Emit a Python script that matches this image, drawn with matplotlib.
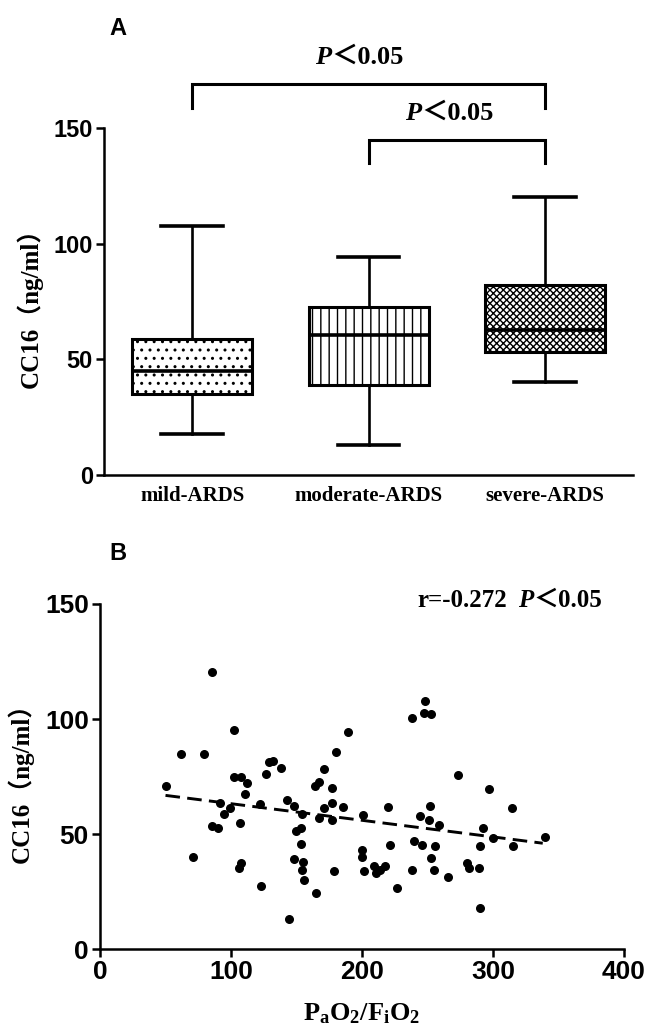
import matplotlib
matplotlib.use('Agg')
import matplotlib.pyplot as plt
import numpy as np

plt.rcParams['hatch.linewidth'] = 1.0
plt.rcParams['mathtext.fontset'] = 'custom'
plt.rcParams['mathtext.rm'] = 'Liberation Serif:bold'
plt.rcParams['mathtext.it'] = 'Liberation Serif:italic:bold'

# ---- panel A: box plot summary per group ----
groups = ['mild-ARDS', 'moderate-ARDS', 'severe-ARDS']
whisk_low = [17.9, 12.8, 40.2]
q1 = [35.2, 38.8, 53.2]
med = [45.0, 60.4, 62.5]
q3 = [58.6, 72.6, 82.3]
whisk_high = [107.6, 94.2, 120.2]
hatches = ['..', '||', 'xxxxx']

# ---- panel B: scatter of CC16 vs PaO2/FiO2 ----
pf_ratio = [85.5, 248, 238, 247, 253, 102.6, 189, 61.8, 79.5, 180, 129, 132.4,
            137.8, 126.4, 171, 273, 102.6, 108,
            50.4, 112, 164.4, 167, 177, 297, 110.9, 142.5, 91.5, 121.9, 147.9,
            177, 171, 185.6, 219.5, 252, 314.5, 99.1, 95, 154, 200.5, 167, 177,
            244, 251, 259, 85.8, 89.9, 106.7, 153.3, 149.5, 292.6, 300, 340,
            153.6, 221.7, 240, 246, 255.6, 290.4, 315, 200.2, 200.2, 71.3,
            147.9, 252.8, 154.8, 107.7, 106.1, 217.5, 209, 211, 214, 238, 280,
            282, 289.5, 154, 178.3, 201.7, 255, 266, 156, 122.9, 227, 165,
            290.4, 144]
cc16 = [120.4, 107.8, 100.6, 102.8, 102.1, 95.4, 94.4, 84.7, 84.7, 85.7, 81.1,
        81.8, 78.9, 75.9, 78.2, 75.6, 74.9, 74.9,
        71, 72.1, 70.7, 72.6, 70.1, 69.7, 67.5, 64.7, 63.6, 62.9, 62.2, 63.5,
        61.5, 61.8, 61.8, 62.1, 61.5, 61.1, 58.9, 58.9, 58.2, 56.8, 56.3, 57.8,
        56, 53.9, 53.6, 52.7, 54.6, 52.7, 51.3, 52.7, 48.4, 48.9, 45.5, 45.3,
        47.1, 45.3, 44.8, 44.8, 44.8, 43.1, 40.2, 40.2, 39.2, 39.4, 37.8, 37.4,
        35.2, 36.2, 36.2, 33, 34.5, 34.2, 37.4, 35.2, 35.2, 34.2, 33.8, 33.8,
        34.2, 31.3, 30.2, 27.6, 26.7, 24.4, 18, 12.9]
fit_x = [50, 338]
fit_y = [66.8, 46.0]

serif_cjk = ['Liberation Serif', 'Noto Sans CJK SC']
tick_font = 'Liberation Sans'

fig = plt.figure(figsize=(6.46, 10.30), dpi=100)
axA = fig.add_axes([0.161, 0.5388, 0.819, 0.3369])
axB = fig.add_axes([0.1548, 0.0786, 0.8111, 0.335])

for ax in (axA, axB):
    ax.spines['top'].set_visible(False)
    ax.spines['right'].set_visible(False)
    ax.spines['left'].set_linewidth(1.8)
    ax.spines['bottom'].set_linewidth(1.8)
    ax.tick_params(width=1.8, length=6, pad=2)

# box plot
stats = []
for i in range(len(groups)):
    stats.append({'whislo': whisk_low[i], 'q1': q1[i], 'med': med[i],
                  'q3': q3[i], 'whishi': whisk_high[i], 'fliers': []})
bp = axA.bxp(stats, positions=[1, 2, 3], widths=0.68, capwidths=0.35,
             patch_artist=True, showfliers=False,
             boxprops=dict(linewidth=2.2, edgecolor='black', facecolor='white'),
             medianprops=dict(linewidth=2.6, color='black'),
             whiskerprops=dict(linewidth=1.9, color='black'),
             capprops=dict(linewidth=2.6, color='black'))
for patch, h in zip(bp['boxes'], hatches):
    patch.set_hatch(h)

axA.set_xlim(0.5, 3.5)
axA.set_ylim(0, 150)
axA.set_yticks([0, 50, 100, 150])
axA.set_xticks([1, 2, 3])
axA.set_xticklabels(groups, family='Liberation Serif', weight='bold', fontsize=15)
axA.tick_params(axis='x', length=0, pad=8)
for lab in axA.get_yticklabels():
    lab.set_family(tick_font)
    lab.set_weight('bold')
    lab.set_fontsize(17)
axA.set_ylabel('CC16（ng/ml）', family=serif_cjk, weight='bold', fontsize=18, labelpad=8)

# significance brackets
axA.plot([1, 1, 3, 3], [158.6, 169, 169, 158.6], color='black', lw=2.2,
         clip_on=False, solid_joinstyle='miter')
axA.plot([2, 2, 3, 3], [134.9, 144.8, 144.8, 134.9], color='black', lw=2.2,
         clip_on=False, solid_joinstyle='miter')
axA.text(1.79, 177.7, 'P', family='Liberation Serif', style='italic', weight='bold',
         fontsize=19, ha='right', va='baseline', clip_on=False)
axA.text(1.79, 177.7, '＜0.05', family=serif_cjk, weight='bold',
         fontsize=19, ha='left', va='baseline', clip_on=False)
axA.text(2.30, 153.5, 'P', family='Liberation Serif', style='italic', weight='bold',
         fontsize=19, ha='right', va='baseline', clip_on=False)
axA.text(2.30, 153.5, '＜0.05', family=serif_cjk, weight='bold',
         fontsize=19, ha='left', va='baseline', clip_on=False)

fig.text(0.183, 0.972, 'A', family=tick_font, weight='bold', fontsize=17,
         ha='center', va='center')

# scatter
axB.scatter(pf_ratio, cc16, s=30, color='black', zorder=3, clip_on=False)
axB.plot(fit_x, fit_y, color='black', lw=2.1, dashes=(5, 2.5))
axB.set_xlim(0, 400)
axB.set_ylim(0, 150)
axB.set_xticks([0, 100, 200, 300, 400])
axB.set_yticks([0, 50, 100, 150])
for lab in axB.get_xticklabels() + axB.get_yticklabels():
    lab.set_family(tick_font)
    lab.set_weight('bold')
    lab.set_fontsize(19)
axB.set_ylabel('CC16（ng/ml）', family=serif_cjk, weight='bold', fontsize=18, labelpad=8)
axB.set_xlabel(r'$\mathrm{P_aO_2/F_iO_2}$', fontsize=19, labelpad=12)

axB.text(311, 148.7, 'r=-0.272', family='Liberation Serif', weight='bold',
         fontsize=18, ha='right', va='baseline')
axB.text(331, 148.7, 'P', family='Liberation Serif', style='italic', weight='bold',
         fontsize=18, ha='right', va='baseline')
axB.text(331, 148.7, '＜0.05', family=serif_cjk, weight='bold',
         fontsize=18, ha='left', va='baseline')

fig.text(0.183, 0.463, 'B', family=tick_font, weight='bold', fontsize=17,
         ha='center', va='center')

fig.savefig('out.png', dpi=100)
